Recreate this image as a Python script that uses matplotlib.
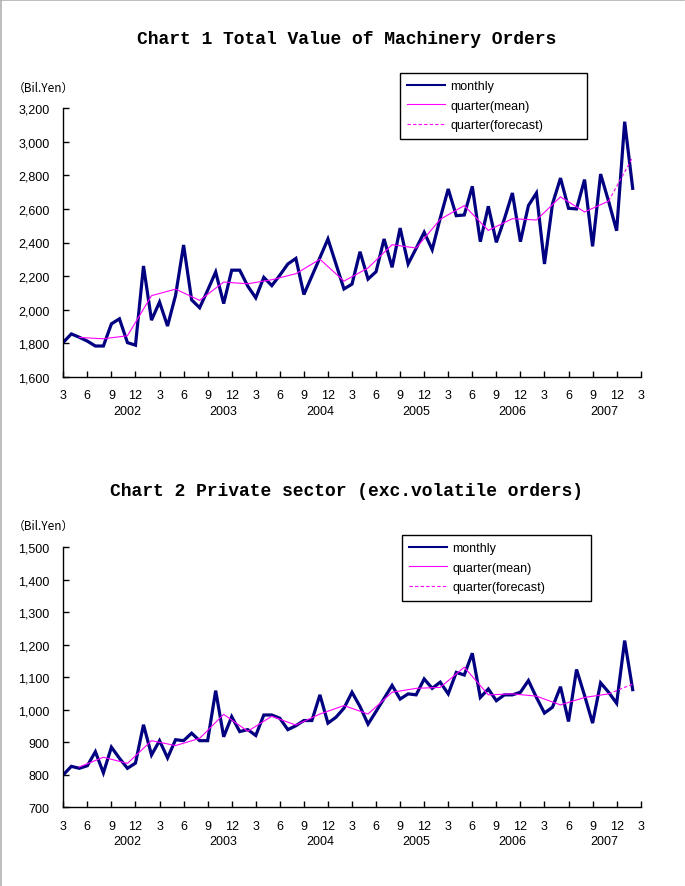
import numpy as np
import matplotlib.pyplot as plt
from matplotlib.lines import Line2D

W, H = 685, 887

# month index 0 = March 2002, 71 = February 2008
months = np.arange(72)
quarter_idx = np.arange(2, 69, 3)
forecast_idx = [68, 71]

total_monthly = [1805, 1855, 1835, 1812, 1783, 1783, 1915, 1945, 1803, 1788,
                 2260, 1937, 2045, 1902, 2085, 2385, 2058, 2011, 2115, 2224,
                 2036, 2235, 2235, 2140, 2070, 2192, 2143, 2205, 2272, 2305,
                 2090, 2200, 2310, 2421, 2272, 2123, 2152, 2345, 2182, 2226,
                 2421, 2252, 2486, 2272, 2365, 2461, 2357, 2545, 2719, 2560,
                 2564, 2735, 2405, 2616, 2401, 2540, 2695, 2405, 2620, 2695,
                 2272, 2630, 2784, 2604, 2600, 2775, 2377, 2808, 2645, 2470,
                 3120, 2723]
total_qmean = [1834, 1826, 1844, 2083, 2122, 2055, 2164, 2154, 2178, 2214,
               2300, 2170, 2248, 2387, 2367, 2538, 2620, 2472, 2542, 2534,
               2672, 2582, 2647]
total_forecast = [2647, 2908]

private_monthly = [800, 826, 820, 828, 871, 806, 885, 851, 820, 836,
                   954, 861, 905, 852, 908, 905, 928, 905, 905, 1059,
                   917, 979, 933, 939, 921, 984, 984, 974, 939, 951,
                   967, 967, 1046, 959, 977, 1005, 1054, 1010, 956, 995,
                   1035, 1075, 1033, 1049, 1046, 1095, 1066, 1085, 1049, 1115,
                   1107, 1174, 1038, 1064, 1028, 1046, 1046, 1054, 1090, 1038,
                   990, 1008, 1071, 964, 1124, 1044, 959, 1083, 1054, 1020,
                   1213, 1062]
private_qmean = [824, 854, 835, 905, 890, 912, 986, 934, 980, 953,
                 987, 1013, 987, 1054, 1066, 1069, 1131, 1046, 1049, 1042,
                 1015, 1038, 1049]
private_forecast = [1049, 1079]

month_labels = ['3', '6', '9', '12']
years = ['2002', '2003', '2004', '2005', '2006', '2007']
year_pos = [8, 20, 32, 44, 56, 67.5]

NAVY = '#000080'
MAG = '#ff00ff'
TICKFONT = 'Liberation Sans'
FS = 9

fig = plt.figure(figsize=(W / 100, H / 100), dpi=100)
fig.patch.set_facecolor('white')


def px_axes(left, top, right, bottom):
    return fig.add_axes([left / W, 1 - bottom / H, (right - left) / W, (bottom - top) / H])


def draw(ax, monthly, qmean, fcast, ymin, ymax, ystep, title, title_y, unit_y, leg_box):
    ax.plot(months, monthly, color=NAVY, lw=2.3, solid_joinstyle='miter')
    ax.plot(quarter_idx, qmean, color=MAG, lw=0.8)
    ax.plot(forecast_idx, fcast, color=MAG, lw=0.8, dashes=(3, 2))

    ax.set_xlim(0, 72)
    ax.set_ylim(ymin, ymax)
    ax.set_xticks(np.arange(0, 73, 3))
    ax.set_xticklabels([month_labels[k % 4] for k in range(25)])
    yt = np.arange(ymin, ymax + 1, ystep)
    ax.set_yticks(yt)
    ax.set_yticklabels([f'{v:,}' for v in yt])
    for s in ['top', 'right']:
        ax.spines[s].set_visible(False)
    for s in ['left', 'bottom']:
        ax.spines[s].set_linewidth(1.0)
    ax.tick_params(axis='both', direction='in', length=4, width=1, labelsize=FS)
    ax.tick_params(axis='x', pad=9)
    ax.tick_params(axis='y', pad=10)
    for lab in ax.get_xticklabels() + ax.get_yticklabels():
        lab.set_family(TICKFONT)

    for y, p in zip(years, year_pos):
        ax.annotate(y, xy=(p, 0), xycoords=('data', 'axes fraction'),
                    xytext=(0, -24.5), textcoords='offset points',
                    ha='center', va='center', fontsize=FS, family=TICKFONT)

    fig.text(347 / W, 1 - title_y / H, title, ha='center', va='center',
             family='Liberation Mono', weight='bold', fontsize=13)
    fig.text(13 / W, 1 - unit_y / H, '（Bil.Yen）', ha='left', va='center',
             fontsize=8.5, family=['Noto Sans CJK JP', TICKFONT])

    handles = [Line2D([], [], color=NAVY, lw=1.5),
               Line2D([], [], color=MAG, lw=0.8),
               Line2D([], [], color=MAG, lw=0.8, dashes=(3, 2))]
    x0, y0, x1, y1 = leg_box
    leg = ax.legend(handles, ['monthly', 'quarter(mean)', 'quarter(forecast)'],
                    loc='upper left', mode='expand',
                    bbox_to_anchor=(x0 / W, 1 - y1 / H, (x1 - x0) / W, (y1 - y0) / H),
                    bbox_transform=fig.transFigure, borderaxespad=0,
                    fancybox=False, framealpha=1, edgecolor='black',
                    prop={'family': TICKFONT, 'size': FS},
                    handlelength=3.0, handletextpad=0.45, labelspacing=0.6,
                    borderpad=0.58)
    leg.get_frame().set_linewidth(1.0)


ax1 = px_axes(63.3, 109.3, 640.7, 377.7)
draw(ax1, total_monthly, total_qmean, total_forecast, 1600, 3200, 200,
     'Chart 1 Total Value of Machinery Orders', 40, 88, (400, 74, 587, 139))

ax2 = px_axes(63.3, 548.3, 640.7, 808.3)
draw(ax2, private_monthly, private_qmean, private_forecast, 700, 1500, 100,
     'Chart 2 Private sector (exc.volatile orders)', 492, 526, (402, 536, 591, 602))

# grey frame edge at top and left of the picture
fig.add_artist(Line2D([0.5 / W, 0.5 / W], [0, 1], color='#b0b0b0', lw=1.2, transform=fig.transFigure))
fig.add_artist(Line2D([0, 684 / W], [1 - 0.5 / H, 1 - 0.5 / H], color='#b0b0b0', lw=1.2, transform=fig.transFigure))

fig.savefig('out.png', dpi=100)
